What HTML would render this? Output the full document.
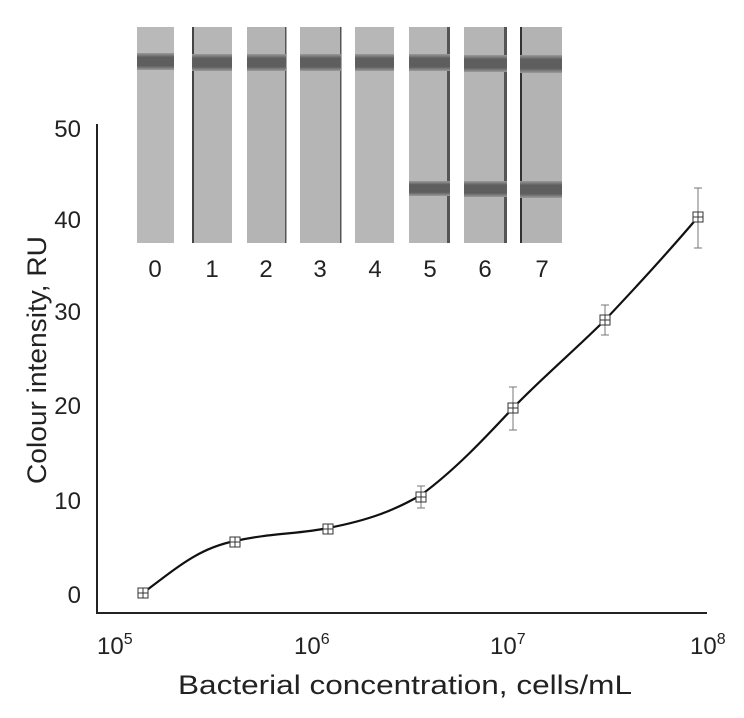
<!DOCTYPE html>
<html><head><style>
body{margin:0;background:#fff;}
svg{display:block;font-family:"Liberation Sans",sans-serif;}
</style></head><body>
<svg width="744" height="718" viewBox="0 0 744 718">
<defs>
<linearGradient id="band" x1="0" y1="0" x2="0" y2="1">
<stop offset="0" stop-color="#9a9a9a"/><stop offset="0.25" stop-color="#5e5e5e"/><stop offset="0.75" stop-color="#5e5e5e"/><stop offset="1" stop-color="#9a9a9a"/>
</linearGradient>
</defs>
<g>
<rect x="137" y="27" width="37" height="216" fill="#b9b9b9"/>
<rect x="192" y="27" width="40" height="216" fill="#b6b6b6"/>
<rect x="247" y="27" width="39" height="216" fill="#b4b4b4"/>
<rect x="300" y="27" width="41" height="216" fill="#b5b5b5"/>
<rect x="355" y="27" width="39" height="216" fill="#b7b7b7"/>
<rect x="409" y="27" width="41" height="216" fill="#b6b6b6"/>
<rect x="464" y="27" width="43" height="216" fill="#b5b5b5"/>
<rect x="520" y="27" width="42" height="216" fill="#b3b3b3"/>
<rect x="192" y="27" width="2" height="216" fill="#444"/>
<rect x="285" y="27" width="1.5" height="216" fill="#555"/>
<rect x="340" y="27" width="1.5" height="216" fill="#555"/>
<rect x="447" y="27" width="3" height="216" fill="#555"/>
<rect x="504" y="27" width="3" height="216" fill="#555"/>
<rect x="520" y="27" width="2" height="216" fill="#333"/>
<g fill="url(#band)">
<rect x="137" y="53" width="37" height="17"/>
<rect x="192" y="54" width="40" height="17"/>
<rect x="247" y="54" width="39" height="17"/>
<rect x="300" y="54" width="41" height="17"/>
<rect x="355" y="54" width="39" height="17"/>
<rect x="409" y="54" width="41" height="17"/>
<rect x="464" y="55" width="43" height="17"/>
<rect x="520" y="55" width="42" height="18"/>
<rect x="409" y="181" width="41" height="15"/>
<rect x="464" y="181" width="43" height="16"/>
<rect x="520" y="181" width="42" height="17"/>
</g>
</g>
<g font-size="24" fill="#222" text-anchor="middle">
<text x="155" y="277">0</text><text x="212" y="277">1</text><text x="266" y="277">2</text><text x="320" y="277">3</text>
<text x="375" y="277">4</text><text x="430" y="277">5</text><text x="485" y="277">6</text><text x="542" y="277">7</text>
</g>
<path d="M97 124 V613 H707" fill="none" stroke="#222" stroke-width="2"/>
<g font-size="24" fill="#222" text-anchor="end">
<text x="81" y="137">50</text><text x="81" y="228">40</text><text x="81" y="320">30</text>
<text x="81" y="414">20</text><text x="81" y="509">10</text><text x="81" y="603">0</text>
</g>
<g font-size="24" fill="#222">
<text x="97" y="654">10<tspan font-size="16" dy="-10">5</tspan></text>
<text x="294" y="654">10<tspan font-size="16" dy="-10">6</tspan></text>
<text x="490" y="654">10<tspan font-size="16" dy="-10">7</tspan></text>
<text x="690" y="654">10<tspan font-size="16" dy="-10">8</tspan></text>
</g>
<text x="178" y="694" font-size="27" fill="#222" textLength="454" lengthAdjust="spacingAndGlyphs">Bacterial concentration, cells/mL</text>
<text transform="translate(46 484) rotate(-90)" font-size="27" fill="#222" textLength="248" lengthAdjust="spacingAndGlyphs">Colour intensity, RU</text>
<g stroke="#777" stroke-width="1" fill="none">
<path d="M421 486V508M417 486h8M417 508h8"/>
<path d="M513 387V430M509 387h8M509 430h8"/>
<path d="M605 305V335M601 305h8M601 335h8"/>
<path d="M698 188V248M694 188h8M694 248h8"/>
</g>
<path d="M143 593 C180 565,200 548,235 541 C270 533,300 534,328 528 C370 520,395 510,421 495 C455 470,485 438,513 408 C545 375,575 350,605 320 C640 283,670 250,698 217" fill="none" stroke="#111" stroke-width="2.2"/>
<g stroke="#333" stroke-width="1" fill="none">
<g transform="translate(143 593)"><rect x="-5" y="-5" width="10" height="10" fill="#fff"/><path d="M0 -5V5M-5 0H5"/></g>
<g transform="translate(235 542)"><rect x="-5" y="-5" width="10" height="10" fill="#fff"/><path d="M0 -5V5M-5 0H5"/></g>
<g transform="translate(328 529)"><rect x="-5" y="-5" width="10" height="10" fill="#fff"/><path d="M0 -5V5M-5 0H5"/></g>
<g transform="translate(421 497)"><rect x="-5" y="-5" width="10" height="10" fill="#fff"/><path d="M0 -5V5M-5 0H5"/></g>
<g transform="translate(513 408)"><rect x="-5" y="-5" width="10" height="10" fill="#fff"/><path d="M0 -5V5M-5 0H5"/></g>
<g transform="translate(605 320)"><rect x="-5" y="-5" width="10" height="10" fill="#fff"/><path d="M0 -5V5M-5 0H5"/></g>
<g transform="translate(698 217)"><rect x="-5" y="-5" width="10" height="10" fill="#fff"/><path d="M0 -5V5M-5 0H5"/></g>
</g>
</svg>
</body></html>
